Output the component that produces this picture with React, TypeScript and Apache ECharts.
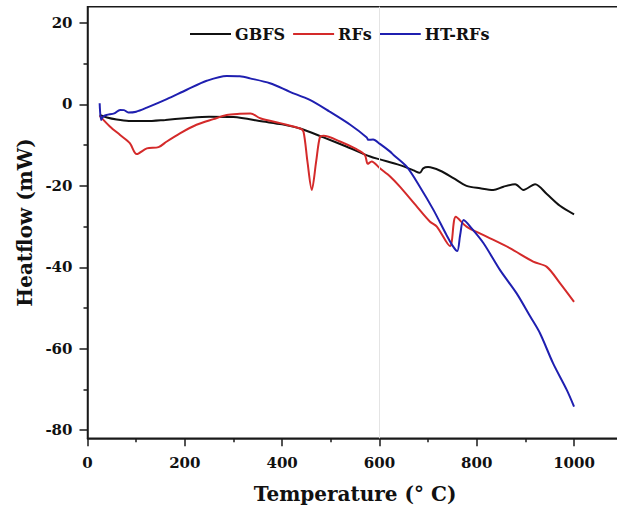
import React, { useEffect, useRef } from "react";
import * as echarts from "echarts";

const seriesNames = ["GBFS", "RFs", "HT-RFs"];

const gbfs: [number, number][] = [
  [25, -2.6], [40, -3.2], [60, -3.7], [85, -4.05], [120, -4.1], [160, -3.8], [200, -3.4],
  [250, -3.0], [300, -3.1], [361, -4.2], [400, -4.9], [437, -5.9], [485, -8.1], [533, -10.4],
  [581, -12.8], [601, -13.5], [642, -14.9], [670, -16.2], [683, -16.8], [690, -15.7], [700, -15.4],
  [725, -16.3], [752, -18.1], [779, -20.0], [807, -20.6], [834, -21.0], [855, -20.2], [879, -19.6],
  [896, -21.0], [920, -19.6], [944, -22.0], [971, -24.9], [1000, -27.0],
];

const rfs: [number, number][] = [
  [25, -2.8], [46, -5.4], [67, -7.5], [87, -9.5], [101, -12.2], [122, -10.8], [146, -10.5],
  [163, -9.1], [190, -7.1], [224, -5.0], [259, -3.6], [286, -2.6], [313, -2.3], [335, -2.2],
  [355, -3.4], [396, -4.6], [437, -5.9], [444, -6.7], [452, -14.0], [461, -21.0], [470, -14.0],
  [478, -7.9], [485, -7.7], [519, -9.1], [553, -11.0], [570, -12.4], [576, -14.6], [584, -14.0],
  [601, -15.7], [622, -17.7], [642, -20.2], [677, -25.1], [704, -28.8], [718, -30.0], [745, -34.8],
  [757, -27.6], [779, -30.0], [814, -32.1], [868, -35.3], [916, -38.6], [944, -39.9], [971, -43.9],
  [1000, -48.5],
];

const htrfs: [number, number][] = [
  [25, 0.3], [28, -3.8], [32, -3.0], [39, -2.6], [55, -2.2], [67, -1.35], [75, -1.4], [84, -2.0],
  [100, -1.8], [122, -0.8], [163, 1.3], [204, 3.6], [245, 5.8], [286, 7.0], [313, 6.9], [334, 6.4],
  [375, 5.2], [416, 3.1], [457, 1.1], [498, -1.8], [540, -5.0], [574, -8.1], [577, -8.7], [587, -8.6],
  [601, -9.7], [622, -11.6], [629, -12.4], [656, -15.3], [683, -20.2], [711, -25.9], [738, -32.1],
  [752, -35.0], [760, -36.0], [766, -32.0], [773, -28.4], [790, -30.5], [814, -34.1], [848, -40.7],
  [882, -46.4], [910, -52.1], [930, -56.2], [957, -63.6], [985, -70.1], [1000, -74.2],
];

const xMajor = [0, 200, 400, 600, 800, 1000];
const xMinor = [100, 300, 500, 700, 900];
const yMajor = [-80, -60, -40, -20, 0, 20];
const yMinor = [-70, -50, -30, -10, 10];
const refLineX = 600;

const FONT = "'DejaVu Serif', serif";
const AX = "#1a1a1a";

export default function App() {
  const ref = useRef<HTMLDivElement>(null);
  useEffect(() => {
    document.body.style.margin = "0";
    if (!ref.current) return;
    const chart = echarts.init(ref.current, null, { renderer: "svg" });
    const labelStyle = {
      fontFamily: FONT, fontWeight: "bold" as const, fontSize: 15, color: "#111",
      formatter: (v: number) => String(v),
    };
    chart.setOption({
      animation: false,
      backgroundColor: "#fff",
      grid: {
        left: 87.5, top: 6.7, bottom: 72.7, right: -5.7,
        show: true, borderColor: AX, borderWidth: 1.5, backgroundColor: "transparent",
        outerBoundsMode: "none",
      },
      legend: {
        left: 185, top: 21, itemWidth: 41, itemHeight: 14, itemGap: 8,
        icon: "path://M0,6 L40,6 L40,8 L0,8 Z",
        textStyle: { fontFamily: FONT, fontWeight: "bold", fontSize: 16, color: "#111", padding: [0, 0, 0, -1] },
        data: seriesNames,
      },
      xAxis: [
        {
          type: "value", min: 0, max: 1100,
          name: "Temperature (° C)", nameLocation: "middle", nameGap: 46,
          nameTextStyle: { fontFamily: FONT, fontWeight: "bold", fontSize: 20, color: "#111" },
          axisLine: { onZero: false, lineStyle: { color: AX, width: 1.5 } },
          axisTick: { length: 8, lineStyle: { color: AX, width: 1.5 }, customValues: xMajor },
          axisLabel: { ...labelStyle, margin: 17, customValues: xMajor },
          splitLine: { show: false },
        },
        {
          type: "value", min: 0, max: 1100, position: "bottom",
          axisLine: { show: false, onZero: false },
          axisTick: { length: 4, lineStyle: { color: AX, width: 1.5 }, customValues: xMinor },
          axisLabel: { show: false },
          splitLine: { show: false },
        },
      ],
      yAxis: [
        {
          type: "value", min: -82, max: 24,
          name: "Heatflow (mW)", nameLocation: "middle", nameGap: 52,
          nameTextStyle: { fontFamily: FONT, fontWeight: "bold", fontSize: 20, color: "#111" },
          axisLine: { show: true, onZero: false, lineStyle: { color: AX, width: 1.5 } },
          axisTick: { show: true, length: 8, lineStyle: { color: AX, width: 1.5 }, customValues: yMajor },
          axisLabel: { ...labelStyle, margin: 15, customValues: yMajor },
          splitLine: { show: false },
        },
        {
          type: "value", min: -82, max: 24, position: "left", offset: 0,
          axisLine: { show: false, onZero: false },
          axisTick: { show: true, length: 4, lineStyle: { color: AX, width: 1.5 }, customValues: yMinor },
          axisLabel: { show: false },
          splitLine: { show: false },
        },
      ],
      series: [
        {
          name: "GBFS", type: "line", data: gbfs, symbol: "none", smooth: 0.3,
          lineStyle: { color: "#111111", width: 2 }, itemStyle: { color: "#111111" }, z: 3,
          markLine: {
            silent: true, symbol: "none", label: { show: false },
            lineStyle: { color: "#e4e4e4", width: 1, type: "solid" },
            data: [{ xAxis: refLineX }],
          },
        },
        {
          name: "RFs", type: "line", data: rfs, symbol: "none", smooth: 0.3,
          lineStyle: { color: "#d42a2a", width: 2 }, itemStyle: { color: "#d42a2a" }, z: 4,
        },
        {
          name: "HT-RFs", type: "line", data: htrfs, symbol: "none", smooth: 0.3,
          lineStyle: { color: "#1f1fb0", width: 2 }, itemStyle: { color: "#1f1fb0" }, z: 5,
        },
      ],
    });
    return () => chart.dispose();
  }, []);
  return <div ref={ref} style={{ width: 617, height: 511, overflow: "hidden" }} />;
}
